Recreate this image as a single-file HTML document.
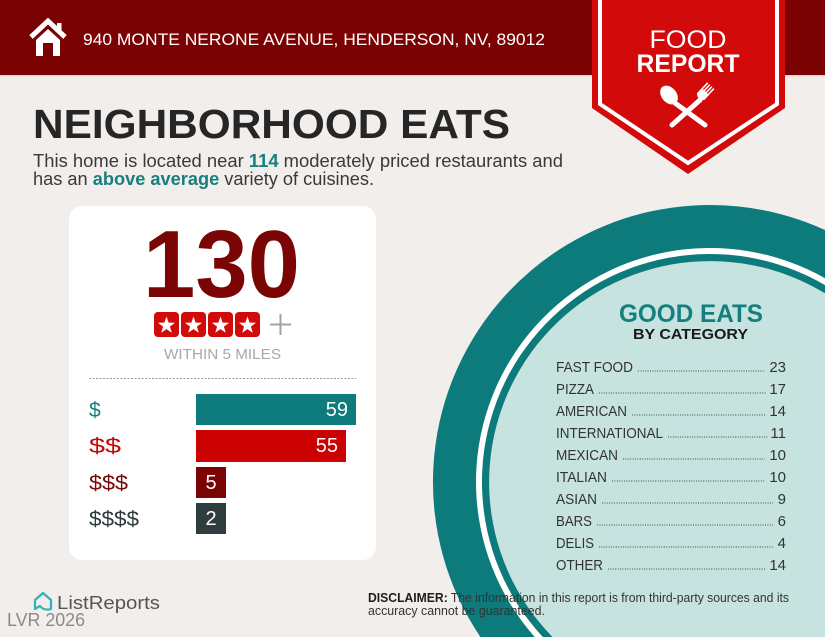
<!DOCTYPE html>
<html><head><meta charset="utf-8"><style>
html,body{margin:0;padding:0;background:#f1eeeb;width:825px;height:637px;overflow:hidden;}
svg{display:block;font-family:"Liberation Sans",sans-serif;position:absolute;left:0;top:0;}
</style></head><body>
<svg width="825" height="637" viewBox="0 0 825 637" xmlns="http://www.w3.org/2000/svg">
<defs>
<polygon id="st" points="0,-9 2.12,-2.91 8.56,-2.78 3.42,1.11 5.29,7.28 0,3.6 -5.29,7.28 -3.42,1.11 -8.56,-2.78 -2.12,-2.91" fill="#fff"/>
</defs>
<rect width="825" height="637" fill="#f1eeeb"/>
<!-- header -->
<rect x="0" y="0" width="825" height="75" fill="#7b0202"/>
<rect x="0" y="75" width="825" height="1.5" fill="#e9d9d6"/>
<polyline points="31,37 48,21 65,37" fill="none" stroke="#fff" stroke-width="5" stroke-linejoin="miter"/>
<rect x="57" y="23" width="4.5" height="10" fill="#fff"/>
<polygon points="36,40 48,29 60,40 60,56 53,56 53,43 43,43 43,56 36,56" fill="#fff"/>
<text x="83" y="45" font-size="17" fill="#fff" textLength="462" lengthAdjust="spacingAndGlyphs">940 MONTE NERONE AVENUE, HENDERSON, NV, 89012</text>
<!-- banner -->
<polygon points="592,0 785,0 785,108 688,174 592,108" fill="#d20a0a"/>
<polyline points="600,0 600,104 688,163 777,104 777,0" fill="none" stroke="#fff" stroke-width="4"/>
<text x="688" y="48" font-size="25" fill="#fff" text-anchor="middle" textLength="77" lengthAdjust="spacingAndGlyphs">FOOD</text>
<text x="688" y="72" font-size="25" font-weight="bold" fill="#fff" text-anchor="middle" textLength="103" lengthAdjust="spacingAndGlyphs">REPORT</text>
<!-- spoon & fork -->
<line x1="675" y1="103" x2="705" y2="125" stroke="#fff" stroke-width="5" stroke-linecap="round"/>
<ellipse cx="669" cy="95" rx="7.5" ry="10.5" fill="#fff" transform="rotate(-40 669 95)"/>
<line x1="700" y1="100" x2="672" y2="125" stroke="#fff" stroke-width="5" stroke-linecap="round"/>
<g transform="rotate(43 704 93)">
<path d="M699,98 L699,91 L709,91 L709,98 Q704,103 699,98 Z" fill="#fff"/>
<rect x="699" y="83" width="1.6" height="9" fill="#fff"/>
<rect x="701.8" y="83" width="1.6" height="9" fill="#fff"/>
<rect x="704.6" y="83" width="1.6" height="9" fill="#fff"/>
<rect x="707.4" y="83" width="1.6" height="9" fill="#fff"/>
</g>
<!-- title -->
<text x="33" y="138" font-size="41" font-weight="bold" fill="#262626" textLength="477" lengthAdjust="spacingAndGlyphs">NEIGHBORHOOD EATS</text>
<text x="33" y="167" font-size="18" fill="#3a3a3a" textLength="530" lengthAdjust="spacingAndGlyphs">This home is located near <tspan font-weight="bold" fill="#17807f">114</tspan> moderately priced restaurants and</text>
<text x="33" y="185" font-size="18" fill="#3a3a3a" textLength="341" lengthAdjust="spacingAndGlyphs">has an <tspan font-weight="bold" fill="#17807f">above average</tspan> variety of cuisines.</text>
<!-- circle (clipped to frame) -->
<path d="M825,637 L480.4,637 A277,277 0 0 1 825,230 Z" fill="#0d7a7b"/>
<path d="M825,637 L534.7,637 A234,234 0 0 1 825,278.2 Z" fill="#ffffff"/>
<path d="M825,637 L542.8,637 A228,228 0 0 1 825,285.1 Z" fill="#0d7a7b"/>
<path d="M825,637 L552.5,637 A221,221 0 0 1 825,293.3 Z" fill="#c6e3e0"/>
<!-- card -->
<rect x="69" y="206" width="307" height="354" rx="13" fill="#ffffff"/>
<text x="143" y="297" font-size="96" font-weight="bold" fill="#7b0505" textLength="157" lengthAdjust="spacingAndGlyphs">130</text>
<rect x="154" y="312" width="25" height="25" rx="4" fill="#d10a0a"/>
<rect x="181" y="312" width="25" height="25" rx="4" fill="#d10a0a"/>
<rect x="208" y="312" width="25" height="25" rx="4" fill="#d10a0a"/>
<rect x="235" y="312" width="25" height="25" rx="4" fill="#d10a0a"/>
<use href="#st" x="166.5" y="325.5"/>
<use href="#st" x="193.5" y="325.5"/>
<use href="#st" x="220.5" y="325.5"/>
<use href="#st" x="247.5" y="325.5"/>
<line x1="270" y1="324.5" x2="291" y2="324.5" stroke="#a3a3a3" stroke-width="2"/>
<line x1="280.5" y1="314" x2="280.5" y2="335" stroke="#a3a3a3" stroke-width="2"/>
<text x="164" y="359" font-size="14.5" fill="#a8a8a8" textLength="117" lengthAdjust="spacingAndGlyphs">WITHIN 5 MILES</text>
<line x1="89" y1="378.5" x2="356" y2="378.5" stroke="#9a9a9a" stroke-width="1" stroke-dasharray="2 1.5"/>
<!-- bars -->
<rect x="196" y="394" width="160" height="31" fill="#0e7c7d"/>
<rect x="196" y="430" width="150" height="32" fill="#cc0202"/>
<rect x="196" y="467" width="30" height="31" fill="#7a0404"/>
<rect x="196" y="503" width="30" height="31" fill="#2f3d3e"/>
<text x="89" y="417" font-size="21" fill="#16807f">$</text>
<text x="89" y="453" font-size="21" fill="#c80606" textLength="32" lengthAdjust="spacingAndGlyphs">$$</text>
<text x="89" y="490" font-size="21" fill="#7a0a0a" textLength="39" lengthAdjust="spacingAndGlyphs">$$$</text>
<text x="89" y="526" font-size="21" fill="#2e3b3c" textLength="50" lengthAdjust="spacingAndGlyphs">$$$$</text>
<text x="348" y="416" font-size="20" fill="#fff" text-anchor="end">59</text>
<text x="338" y="452" font-size="20" fill="#fff" text-anchor="end">55</text>
<text x="211" y="489" font-size="20" fill="#fff" text-anchor="middle">5</text>
<text x="211" y="525" font-size="20" fill="#fff" text-anchor="middle">2</text>
<!-- good eats -->
<text x="619" y="322" font-size="25" font-weight="bold" fill="#13807f" textLength="144" lengthAdjust="spacingAndGlyphs">GOOD EATS</text>
<text x="633" y="339" font-size="15" font-weight="bold" fill="#1a1a1a" textLength="115" lengthAdjust="spacingAndGlyphs">BY CATEGORY</text>
<g font-size="15" fill="#333">
<text x="556" y="372" textLength="77" lengthAdjust="spacingAndGlyphs">FAST FOOD</text>
<text x="556" y="394" textLength="38" lengthAdjust="spacingAndGlyphs">PIZZA</text>
<text x="556" y="416" textLength="71" lengthAdjust="spacingAndGlyphs">AMERICAN</text>
<text x="556" y="438" textLength="107" lengthAdjust="spacingAndGlyphs">INTERNATIONAL</text>
<text x="556" y="460" textLength="62" lengthAdjust="spacingAndGlyphs">MEXICAN</text>
<text x="556" y="482" textLength="51" lengthAdjust="spacingAndGlyphs">ITALIAN</text>
<text x="556" y="504" textLength="41" lengthAdjust="spacingAndGlyphs">ASIAN</text>
<text x="556" y="526" textLength="36" lengthAdjust="spacingAndGlyphs">BARS</text>
<text x="556" y="548" textLength="38" lengthAdjust="spacingAndGlyphs">DELIS</text>
<text x="556" y="570" textLength="47" lengthAdjust="spacingAndGlyphs">OTHER</text>
<g text-anchor="end">
<text x="786" y="372">23</text>
<text x="786" y="394">17</text>
<text x="786" y="416">14</text>
<text x="786" y="438">11</text>
<text x="786" y="460">10</text>
<text x="786" y="482">10</text>
<text x="786" y="504">9</text>
<text x="786" y="526">6</text>
<text x="786" y="548">4</text>
<text x="786" y="570">14</text>
</g>
</g>
<g stroke="#4a4a4a" stroke-width="1.1" stroke-dasharray="1 1.4">
<line x1="638" y1="371" x2="764" y2="371"/>
<line x1="599" y1="393" x2="766" y2="393"/>
<line x1="632" y1="415" x2="766" y2="415"/>
<line x1="668" y1="437" x2="768" y2="437"/>
<line x1="623" y1="459" x2="765" y2="459"/>
<line x1="612" y1="481" x2="765" y2="481"/>
<line x1="602" y1="503" x2="773" y2="503"/>
<line x1="597" y1="525" x2="773" y2="525"/>
<line x1="599" y1="547" x2="773" y2="547"/>
<line x1="608" y1="569" x2="766" y2="569"/>
</g>
<!-- disclaimer -->
<text x="368" y="602" font-size="12.5" fill="#333" textLength="421" lengthAdjust="spacingAndGlyphs"><tspan font-weight="bold" fill="#1e1e1e">DISCLAIMER:</tspan> The information in this report is from third-party sources and its</text>
<text x="368" y="615" font-size="12.5" fill="#333" textLength="177" lengthAdjust="spacingAndGlyphs">accuracy cannot be guaranteed.</text>
<!-- logo -->
<path d="M35,600 L43,593 L51,600 L51,609 Q44,611 40,606 L35,609 Z" fill="none" stroke="#2fb3b8" stroke-width="2.2" stroke-linejoin="round"/>
<text x="57" y="609" font-size="18" fill="#555" textLength="103" lengthAdjust="spacingAndGlyphs">ListReports</text>
<text x="7" y="626" font-size="18" fill="#8a8a8a" textLength="78" lengthAdjust="spacingAndGlyphs">LVR 2026</text>
</svg>
</body></html>
